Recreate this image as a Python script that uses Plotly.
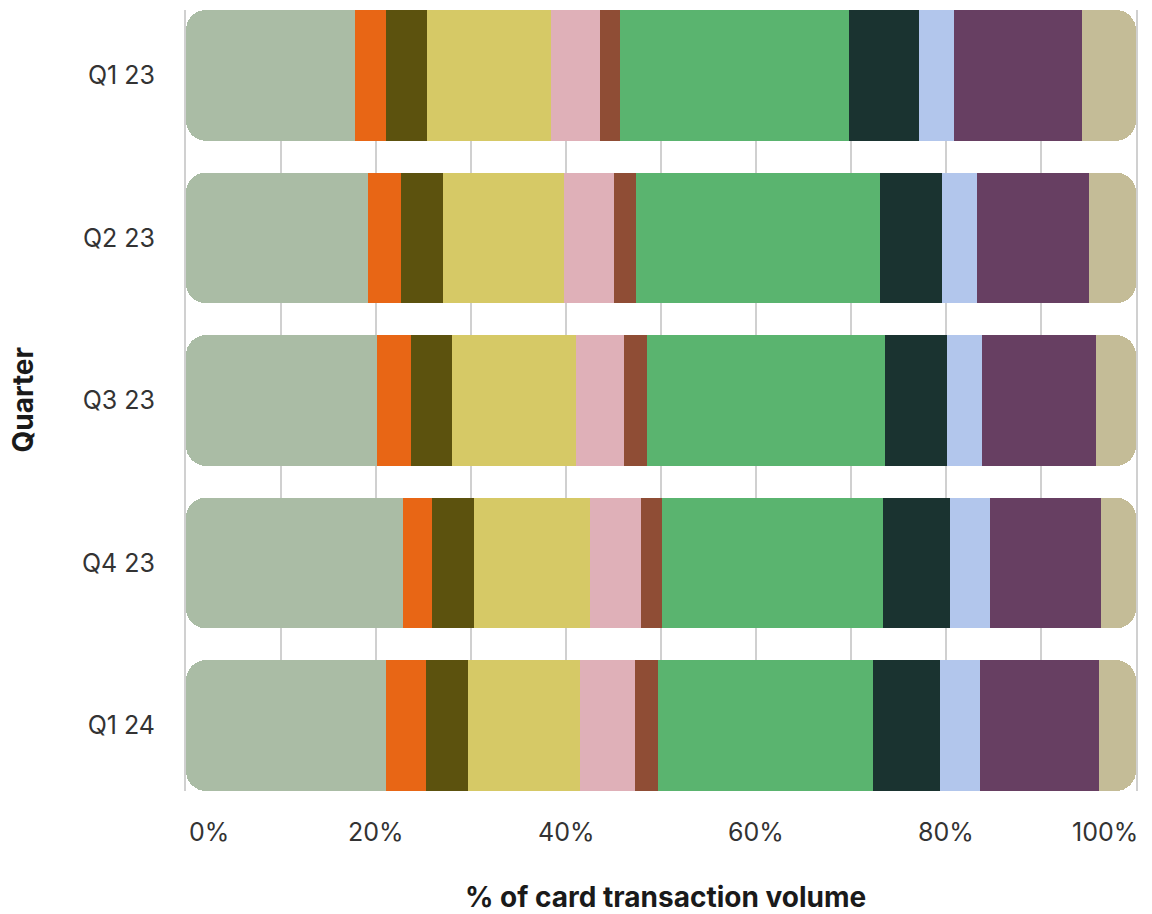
import numpy as np
import plotly.graph_objects as go

# Quarters shown top to bottom
quarters = ["Q1 23", "Q2 23", "Q3 23", "Q4 23", "Q1 24"]

# Share of card transaction volume (%) per segment, left to right
seg_01 = [17.8, 19.2, 20.1, 22.8, 21.0]
seg_02 = [3.3, 3.4, 3.6, 3.1, 4.3]
seg_03 = [4.3, 4.5, 4.3, 4.4, 4.4]
seg_04 = [13.0, 12.7, 13.0, 12.2, 11.8]
seg_05 = [5.2, 5.3, 5.1, 5.4, 5.8]
seg_06 = [2.1, 2.3, 2.4, 2.2, 2.4]
seg_07 = [24.1, 25.7, 25.1, 23.3, 22.6]
seg_08 = [7.4, 6.5, 6.5, 7.0, 7.1]
seg_09 = [3.6, 3.7, 3.7, 4.2, 4.2]
seg_10 = [13.5, 11.7, 12.0, 11.7, 12.5]
seg_11 = [5.7, 5.0, 4.2, 3.7, 3.9]

segment_colors = [
    "#AABCA5", "#E86615", "#5C520E", "#D6C966", "#DFB0B8", "#8F4D35",
    "#5AB46F", "#1A3330", "#B2C6EC", "#673F62", "#C4BC97",
]

x_tick_values = [0, 20, 40, 60, 80, 100]
x_tick_labels = ["0%", "20%", "40%", "60%", "80%", "100%"]

segments = [seg_01, seg_02, seg_03, seg_04, seg_05, seg_06,
            seg_07, seg_08, seg_09, seg_10, seg_11]

FONT = "Inter, 'Open Sans', sans-serif"
GRID = "#d0d0d0"
BAR_W = 0.805
RADIUS = 20
CLEAR = "rgba(0,0,0,0)"

fig = go.Figure()

# Main stack on x/y: an invisible spacer for the first segment, then the
# remaining segments; the stack's outer (right) end gets the rounded corners.
first = np.array(seg_01, dtype=float)
fig.add_trace(go.Bar(
    y=quarters, x=first, orientation="h", width=BAR_W,
    marker=dict(color=CLEAR, line=dict(width=0), cornerradius=RADIUS),
    hoverinfo="skip", showlegend=False,
))
for i in range(1, len(segments)):
    fig.add_trace(go.Bar(
        y=quarters, x=segments[i], orientation="h", width=BAR_W,
        name=f"Segment {i + 1}",
        marker=dict(color=segment_colors[i], line=dict(width=0)),
        hovertemplate="%{y}: %{x:.1f}%<extra></extra>",
        showlegend=False,
    ))

# First segment on a reversed overlay axis, so its rounded outer end
# lands on the left edge of the bar.
fig.add_trace(go.Bar(
    y=quarters, x=100 - first, orientation="h", width=BAR_W,
    xaxis="x2", yaxis="y",
    marker=dict(color=CLEAR, line=dict(width=0), cornerradius=RADIUS),
    hoverinfo="skip", showlegend=False,
))
fig.add_trace(go.Bar(
    y=quarters, x=first, orientation="h", width=BAR_W,
    xaxis="x2", yaxis="y", name="Segment 1",
    marker=dict(color=segment_colors[0], line=dict(width=0)),
    hovertemplate="%{y}: %{x:.1f}%<extra></extra>",
    showlegend=False,
))

annotations = []
for tv, tl in zip(x_tick_values, x_tick_labels):
    if tv == x_tick_values[0]:
        anchor, shift = "left", 1
    elif tv == x_tick_values[-1]:
        anchor, shift = "right", 4
    else:
        anchor, shift = "center", 0
    annotations.append(dict(
        x=tv, xref="x", y=0, yref="paper", yshift=-41, xshift=shift,
        text=tl, showarrow=False, xanchor=anchor, yanchor="middle",
        font=dict(family=FONT, size=25, color="#333333"),
    ))

annotations.append(dict(
    x=0.5, xref="paper", y=0, yref="paper", yshift=-106, xshift=4,
    text="<b>% of card transaction volume</b>", showarrow=False,
    xanchor="center", yanchor="middle",
    font=dict(family=FONT, size=28, color="#1a1a1a"),
))
annotations.append(dict(
    x=0, xref="paper", y=0.5, yref="paper", xshift=-164,
    text="<b>Quarter</b>", showarrow=False, textangle=-90,
    xanchor="center", yanchor="middle",
    font=dict(family=FONT, size=28, color="#1a1a1a"),
))

fig.update_layout(
    width=1152,
    height=914,
    margin=dict(l=186, r=16, t=10, b=123),
    barmode="stack",
    plot_bgcolor="white",
    paper_bgcolor="white",
    font=dict(family=FONT, color="#333333"),
    annotations=annotations,
    xaxis=dict(
        range=[0, 100],
        dtick=10,
        showgrid=True,
        gridcolor=GRID,
        gridwidth=2,
        zeroline=False,
        showline=False,
        showticklabels=False,
        ticks="",
        layer="below traces",
        fixedrange=True,
    ),
    xaxis2=dict(
        overlaying="x",
        range=[100, 0],
        showgrid=False,
        zeroline=False,
        showline=False,
        showticklabels=False,
        ticks="",
        fixedrange=True,
    ),
    yaxis=dict(
        type="category",
        categoryorder="array",
        categoryarray=quarters,
        range=[len(quarters) - 1 + BAR_W / 2, -BAR_W / 2],
        showgrid=False,
        zeroline=False,
        # vertical rules at 0% and 100%
        showline=True,
        mirror=True,
        linecolor=GRID,
        linewidth=2,
        layer="below traces",
        ticks="",
        ticklabelstandoff=24,
        tickfont=dict(family=FONT, size=25, color="#333333"),
        fixedrange=True,
    ),
)

fig.write_html("out.html")
